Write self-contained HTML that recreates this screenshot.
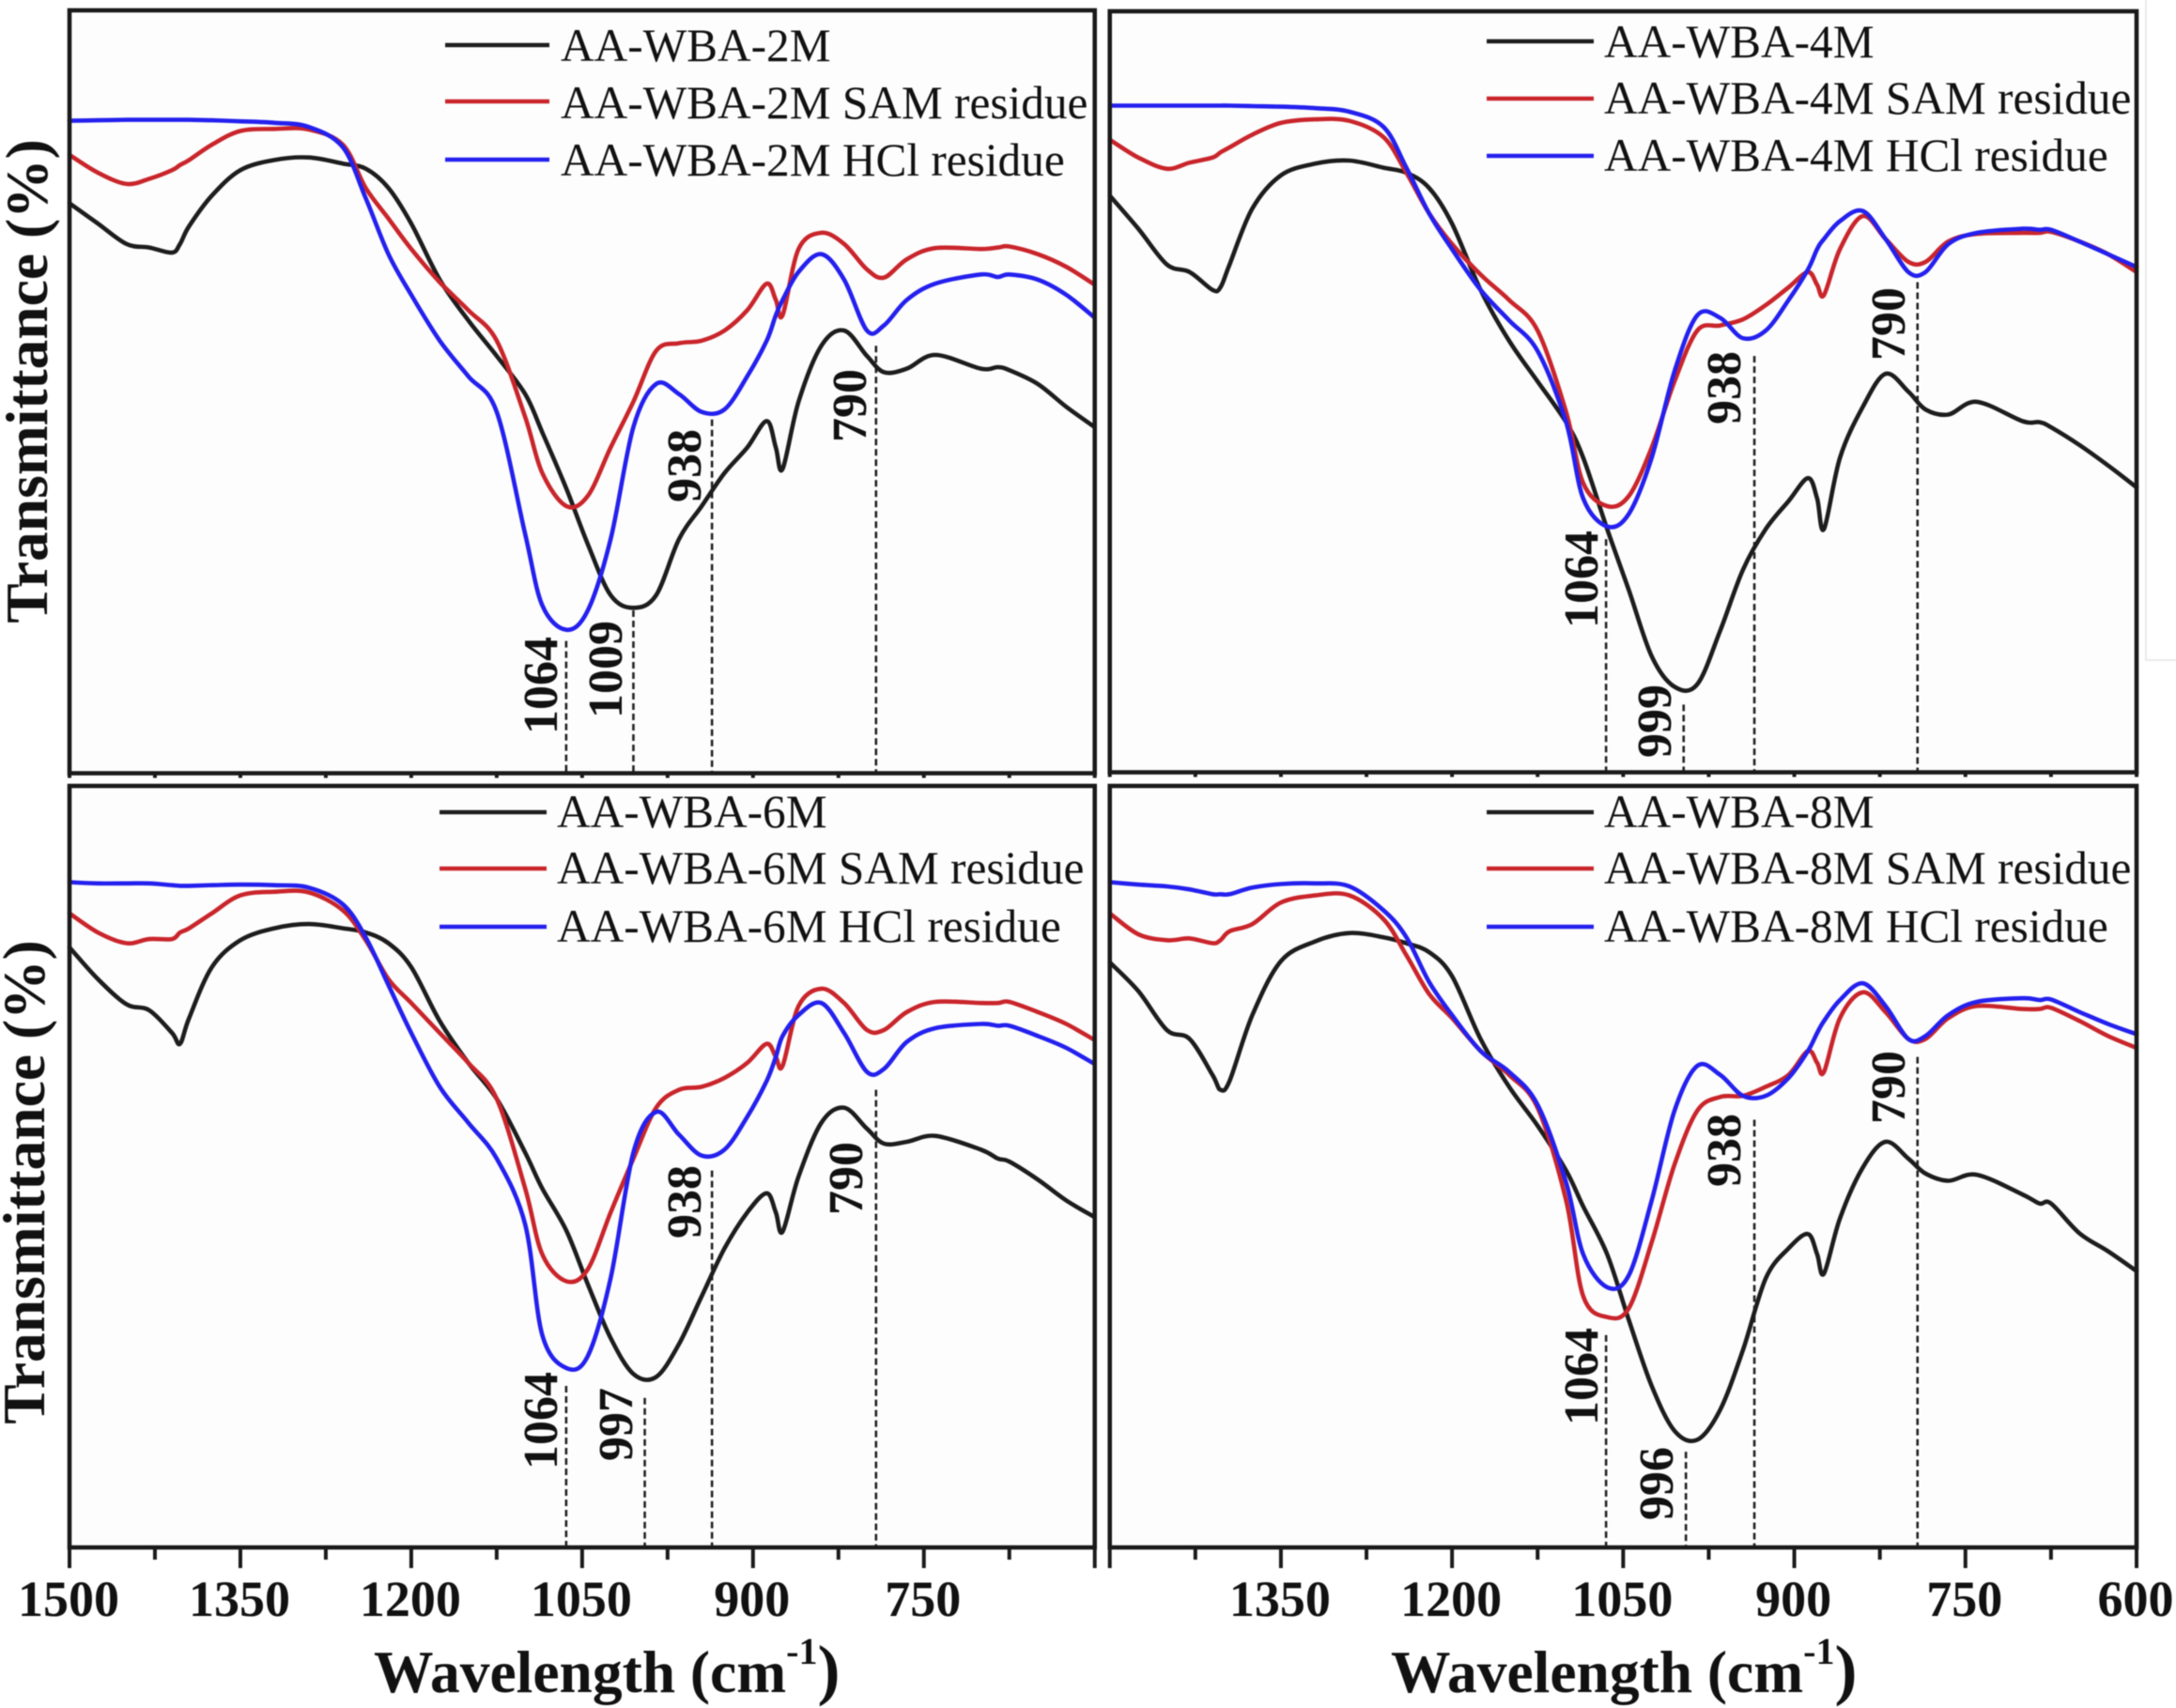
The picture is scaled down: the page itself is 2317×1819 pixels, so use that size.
<!DOCTYPE html>
<html lang="en">
<head>
<meta charset="utf-8">
<title>FTIR spectra of AA-WBA samples</title>
<style>
html,body{margin:0;padding:0;background:#fff;}
body{width:2317px;height:1819px;overflow:hidden;}
svg{display:block;font-family:"Liberation Serif",serif;filter:blur(0.6px);}
</style>
</head>
<body>
<svg id="chart" xmlns="http://www.w3.org/2000/svg" width="2317" height="1819" viewBox="0 0 2317 1819"></svg>
<script>
const wavenumbers = [1500,1475,1450,1430,1410,1403,1395,1375,1350,1320,1290,1260,1240,1220,1200,1175,1150,1125,1100,1085,1064,1045,1025,1005,985,965,945,925,905,888,880,874,860,840,820,800,785,765,740,700,685,675,650,625,600];

const wba2mBlack = [1120,1080,1040,1033,1023,1040,1075,1135,1185,1205,1210,1198,1188,1150,1080,970,890,820,745,670,560,450,350,325,350,460,525,590,640,692,640,598,730,840,870,820,788,795,822,795,798,792,765,720,680];
const wba2mRed = [1215,1180,1158,1168,1185,1195,1205,1235,1262,1266,1265,1235,1150,1090,1030,965,910,850,700,590,525,545,640,730,830,845,850,870,910,962,930,900,1030,1062,1040,990,974,1010,1032,1030,1033,1035,1020,995,960];
const wba2mBlue = [1282,1283,1284,1284,1284,1284,1284,1283,1281,1278,1270,1230,1130,1020,940,850,780,710,470,330,282,320,460,680,765,745,710,715,780,850,900,930,985,1020,970,870,880,930,962,980,975,980,970,940,895];

const wba4mBlack = [1133,1068,998,983,948,953,998,1108,1173,1196,1202,1188,1178,1148,1078,948,848,768,688,618,478,358,228,168,173,278,398,478,533,578,538,478,618,718,783,748,713,703,728,690,688,678,643,603,560];
const wba4mRed = [1243,1208,1186,1198,1208,1218,1228,1253,1276,1283,1280,1248,1178,1098,1038,978,928,868,708,568,523,543,638,768,868,878,890,918,953,983,958,938,1028,1093,1048,1003,1003,1043,1058,1060,1060,1062,1043,1018,983];
const wba4mBlue = [1310,1310,1310,1310,1310,1310,1310,1309,1308,1305,1298,1268,1188,1098,1028,948,888,828,688,538,483,508,618,788,898,893,853,868,928,988,1028,1048,1083,1103,1048,983,983,1038,1060,1068,1066,1066,1043,1018,993];

const wba6mBlack = [1003,950,908,898,860,842,885,970,1015,1035,1042,1035,1028,1010,970,880,810,750,660,600,530,440,350,290,285,340,420,500,560,592,560,528,620,710,735,700,675,678,688,665,650,645,615,580,552];
const wba6mRed = [1060,1028,1010,1017,1017,1028,1035,1060,1090,1096,1095,1065,1015,950,910,860,810,750,600,490,445,465,560,650,735,765,770,785,810,842,820,805,905,934,910,865,865,895,912,910,910,912,895,875,848];
const wba6mBlue = [1112,1110,1110,1110,1107,1106,1106,1107,1108,1107,1103,1075,1020,940,860,770,710,650,540,355,300,320,450,660,728,690,655,665,720,780,820,855,890,910,860,795,800,845,868,875,872,872,855,835,808];

const wba8mBlack = [978,930,865,850,790,765,780,890,980,1013,1027,1020,1010,995,955,850,770,705,630,570,490,380,270,195,180,230,330,450,500,524,490,458,550,635,678,650,625,613,623,590,575,575,525,495,462];
const wba8mRed = [1060,1025,1015,1018,1010,1015,1030,1042,1078,1090,1090,1050,990,925,885,830,790,735,580,420,385,400,510,640,730,753,755,770,790,830,810,795,885,928,895,850,850,885,905,900,900,902,880,855,835];
const wba8mBlue = [1112,1108,1105,1100,1092,1092,1092,1103,1109,1110,1105,1065,1020,945,890,830,795,740,610,490,435,455,580,730,805,790,755,755,785,830,860,880,915,943,905,850,855,890,912,918,915,916,895,875,858];

const minorTicks = [1425,1275,1125,975,825,675];
const leftTickLabels = [1500,1350,1200,1050,900,750];
const rightTickLabels = [1350,1200,1050,900,750,600];
const allMajorTicks = [1500,1350,1200,1050,900,750,600];

const peaks2mText = ['1064','1009','938','790'];
const peaks2mAt = [1064,1005,936,792];
const peaks2mTop = [260,320,695,840];
const peaks4mText = ['1064','999','938','790'];
const peaks4mAt = [1065,997,935,792];
const peaks4mTop = [458,133,818,963];
const peaks6mText = ['1064','997','938','790'];
const peaks6mAt = [1064,995,936,792];
const peaks6mTop = [270,250,630,765];
const peaks8mText = ['1064','996','938','790'];
const peaks8mAt = [1065,995,935,792];
const peaks8mTop = [355,160,715,820];

const seriesColors = ['#1d1d1d','#c9252b','#2420ee'];
const seriesKeys = ['base','sam','hcl'];

const panels = [
 {id:'2m',sample:'AA-WBA-2M',left:74,right:1165.7,top:11,bottom:823.5,unit:1/1.845,black:wba2mBlack,red:wba2mRed,blue:wba2mBlue,
  peaksText:peaks2mText,peaksAt:peaks2mAt,peaksTop:peaks2mTop,labelX:[593,662,746,922],labelY:[730,713,496,432],
  legLine:[474,585],legText:597,legY:[48,108,170],legBase:[65,126,187],labels:[]},
 {id:'4m',sample:'AA-WBA-4M',left:1181.7,right:2275,top:12,bottom:822.5,unit:1/1.845,black:wba4mBlack,red:wba4mRed,blue:wba4mBlue,
  peaksText:peaks4mText,peaksAt:peaks4mAt,peaksTop:peaks4mTop,labelX:[1701,1779,1853,2028],labelY:[617,768,413,345],
  legLine:[1583,1697],legText:1708,legY:[44,105,166],legBase:[61,121,182],labels:[]},
 {id:'6m',sample:'AA-WBA-6M',left:74,right:1165.7,top:837,bottom:1648,unit:1/1.5696,black:wba6mBlack,red:wba6mRed,blue:wba6mBlue,
  peaksText:peaks6mText,peaksAt:peaks6mAt,peaksTop:peaks6mTop,labelX:[593,673,746,918],labelY:[1513,1517,1280,1255],
  legLine:[468,582],legText:593,legY:[865,925,987],legBase:[881,941,1003],labels:leftTickLabels},
 {id:'8m',sample:'AA-WBA-8M',left:1181.7,right:2275,top:837,bottom:1648,unit:1/1.5696,black:wba8mBlack,red:wba8mRed,blue:wba8mBlue,
  peaksText:peaks8mText,peaksAt:peaks8mAt,peaksTop:peaks8mTop,labelX:[1701,1781,1853,2028],labelY:[1466,1580,1225,1158],
  legLine:[1583,1697],legText:1708,legY:[865,925,987],legBase:[881,941,1003],labels:rightTickLabels}
];

const NS = 'http://www.w3.org/2000/svg';
const svg = document.getElementById('chart');

function make(tag, parent, attrs) {
  const node = document.createElementNS(NS, tag);
  for (const k in attrs) node.setAttribute(k, attrs[k]);
  parent.appendChild(node);
  return node;
}

function smoothPath(pts) {
  let d = 'M' + pts[0][0].toFixed(1) + ' ' + pts[0][1].toFixed(1);
  for (let i = 0; i < pts.length - 1; i++) {
    const p0 = pts[Math.max(0, i - 1)], p1 = pts[i], p2 = pts[i + 1], p3 = pts[Math.min(pts.length - 1, i + 2)];
    const c1x = p1[0] + (p2[0] - p0[0]) / 6, c1y = p1[1] + (p2[1] - p0[1]) / 6;
    const c2x = p2[0] - (p3[0] - p1[0]) / 6, c2y = p2[1] - (p3[1] - p1[1]) / 6;
    d += 'C' + c1x.toFixed(1) + ' ' + c1y.toFixed(1) + ' ' + c2x.toFixed(1) + ' ' + c2y.toFixed(1) + ' ' + p2[0].toFixed(1) + ' ' + p2[1].toFixed(1);
  }
  return d;
}

const outerBox = make('rect', svg, {x:2285, y:-5, width:60, height:708, fill:'#fff', stroke:'#e4e4e4', 'stroke-width':1.5});



panels.forEach(function (p) {
  const xScale = function (v) { return p.left + (1500 - v) * (p.right - p.left) / 900; };
  const yScale = function (t) { return p.bottom - t * p.unit; };

  const group = make('g', svg, {});
  
  

  const plotBg = make('rect', group, {x:p.left, y:p.top, width:p.right - p.left, height:p.bottom - p.top, fill:'#fdfdfd'});
  
  

  // dashed peak markers
  p.peaksAt.forEach(function (v, i) {
    const dash = make('line', group, {x1:xScale(v), x2:xScale(v), y1:yScale(p.peaksTop[i]), y2:p.bottom, stroke:'#222', 'stroke-width':2.6, 'stroke-dasharray':'7 4'});
    
    
  });

  // series
  [p.black, p.red, p.blue].forEach(function (values, s) {
    const pts = wavenumbers.map(function (v, i) { return [xScale(v), yScale(values[i])]; });
    const curve = make('path', group, {d:smoothPath(pts), fill:'none', stroke:seriesColors[s], 'stroke-width':4.6, 'stroke-linejoin':'round', 'stroke-linecap':'round'});
    
    
  });

  // peak labels
  p.peaksText.forEach(function (txt, i) {
    const x = p.labelX[i], y = p.labelY[i];
    const label = make('text', group, {x:x, y:y, transform:'rotate(-90 ' + x + ' ' + y + ')', 'text-anchor':'middle', 'font-weight':'bold', 'font-size':52, fill:'#111'});
    label.textContent = txt;
    
    
  });

  // frame
  const frame = make('rect', group, {x:p.left, y:p.top, width:p.right - p.left, height:p.bottom - p.top, fill:'none', stroke:'#1a1a1a', 'stroke-width':4.6});
  
  

  // ticks
  const hasLabels = p.labels.length > 0;
  allMajorTicks.forEach(function (v) {
    const tick = make('line', group, {x1:xScale(v), x2:xScale(v), y1:p.bottom, y2:p.bottom + (hasLabels ? 22 : 5), stroke:'#1a1a1a', 'stroke-width':4});
    
    
  });
  minorTicks.forEach(function (v) {
    const tick = make('line', group, {x1:xScale(v), x2:xScale(v), y1:p.bottom, y2:p.bottom + (hasLabels ? 13 : 5), stroke:'#1a1a1a', 'stroke-width':4});
    
    
  });
  p.labels.forEach(function (v) {
    const tl = make('text', group, {x:xScale(v) - 1, y:1721, 'text-anchor':'middle', 'font-weight':'bold', 'font-size':54, fill:'#111'});
    tl.textContent = String(v);
    
    
  });

  // legend
  const legendNames = [p.sample, p.sample + ' SAM residue', p.sample + ' HCl residue'];
  legendNames.forEach(function (name, i) {
    const swatch = make('line', group, {x1:p.legLine[0], x2:p.legLine[1], y1:p.legY[i], y2:p.legY[i], stroke:seriesColors[i], 'stroke-width':4.6});
    
    
    const entry = make('text', group, {x:p.legText, y:p.legBase[i], 'font-size':49.3, fill:'#111'});
    entry.textContent = name;
    
    
  });
});

// axis titles
const yTitleTop = make('text', svg, {x:50, y:406, transform:'rotate(-90 50 406)', 'text-anchor':'middle', 'font-weight':'bold', 'font-size':63.5, fill:'#111'});
yTitleTop.textContent = 'Transmittance (%)';



const yTitleBottom = make('text', svg, {x:47, y:1259, transform:'rotate(-90 47 1259)', 'text-anchor':'middle', 'font-weight':'bold', 'font-size':63.5, fill:'#111'});
yTitleBottom.textContent = 'Transmittance (%)';



const xTitleLeft = make('text', svg, {x:398, y:1802, 'font-weight':'bold', 'font-size':63.5, fill:'#111'});


xTitleLeft.innerHTML = 'Wavelength (cm<tspan dy="-30" font-size="40">-1</tspan><tspan dy="30" font-size="72">)</tspan>';

const xTitleRight = make('text', svg, {x:1481, y:1802, 'font-weight':'bold', 'font-size':63.5, fill:'#111'});


xTitleRight.innerHTML = 'Wavelength (cm<tspan dy="-30" font-size="40">-1</tspan><tspan dy="30" font-size="72">)</tspan>';
</script>
</body>
</html>
